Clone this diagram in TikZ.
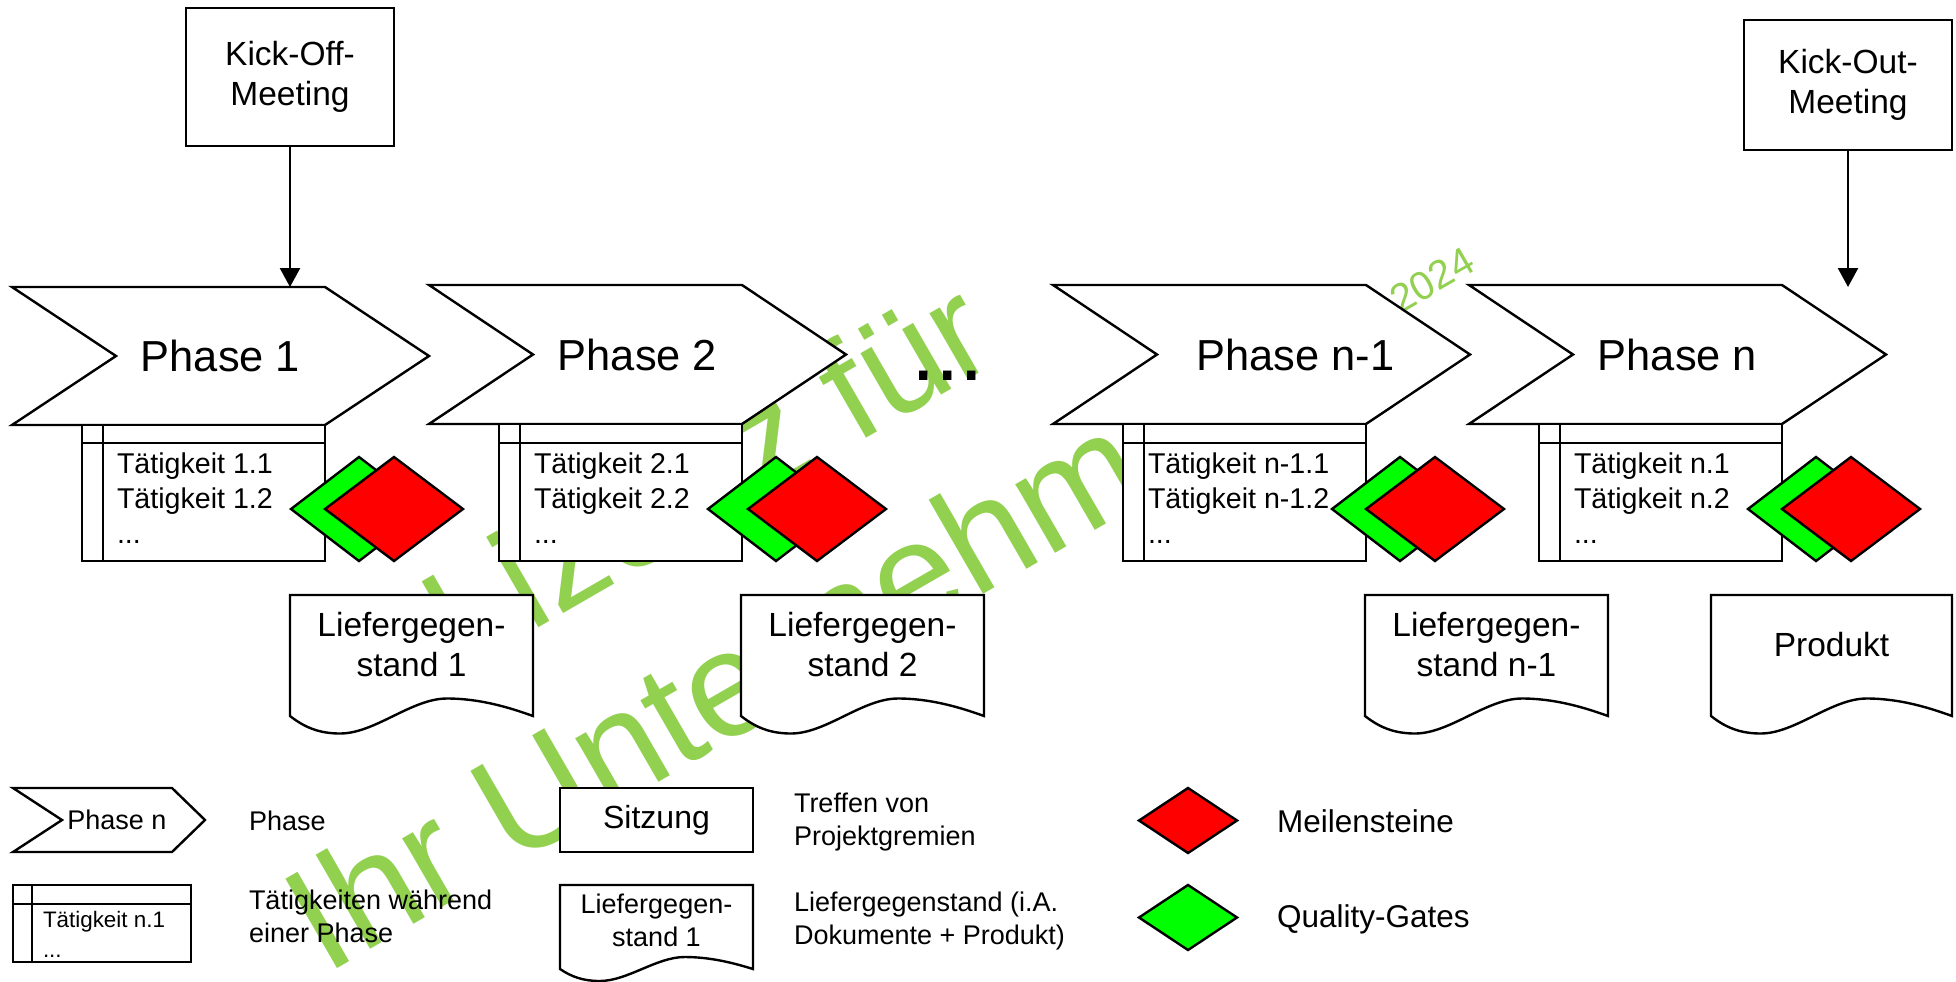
\documentclass[tikz,border=0pt]{standalone}
\usepackage{fontspec}
\setmainfont{Liberation Sans}
\usetikzlibrary{arrows.meta,calc}

\definecolor{wmgreen}{RGB}{146,208,80}
\definecolor{msred}{RGB}{255,0,0}
\definecolor{qggreen}{RGB}{0,255,0}

\tikzset{
  shapeline/.style={draw=black, line width=1.2pt, fill=white},
  divider/.style={draw=black, line width=1.2pt},
  txt/.style={inner sep=0pt, outer sep=0pt, text=black},
  phasetitle/.style={txt, font=\fontsize{21.7}{26}\selectfont},
  tasktext/.style={txt, anchor=north west, align=left, font=\fontsize{14.3}{17.5}\selectfont},
  doctext/.style={txt, align=center, font=\fontsize{16.75}{20}\selectfont},
  meetbox/.style={shapeline, align=center, font=\fontsize{16.75}{20}\selectfont,
    minimum width=104pt, inner sep=0pt},
  legtext/.style={txt, anchor=north west, align=left, font=\fontsize{13.5}{16.5}\selectfont},
  legbig/.style={txt, anchor=base west, font=\fontsize{15.75}{19}\selectfont},
  wmtext/.style={txt, text=wmgreen},
  flow/.style={line width=1.2pt, -{Triangle[width=10pt,length=9.5pt]}},
}

% phase arrow: #1 name, #2 left x, #3 top y, #4 half height, #5 title, #6 title shift
\newcommand\drawphase[6]{%
  \draw[shapeline] (#2,#3) -- ++(313,0) -- ++(104,#4) -- ++(-104,#4) -- ++(-313,0) -- ++(104,-#4) -- cycle;
  \node[phasetitle] (#1) at ($(#2,#3)+({208.5+#6},#4)$) {#5};
}

% activity list below a phase: #1 name, #2 left x, #3 top y, #4 phase number, #5 text indent
\newcommand\drawtasks[5]{%
  \draw[shapeline] (#2,#3) rectangle ({#2+243},561);
  \draw[divider] (#2,443) -- ({#2+243},443);
  \draw[divider] ({#2+21},#3) -- ({#2+21},561);
  \node[tasktext] (#1) at ({#2+#5},453) {Tätigkeit #4.1\\Tätigkeit #4.2\\...};
}

% diamond: #1 centre x, #2 centre y, #3 half width, #4 half height, #5 colour
\newcommand\drawgate[5]{%
  \draw[shapeline, fill=#5] ({#1-#3},#2) -- (#1,{#2-#4}) -- ({#1+#3},#2) -- (#1,{#2+#4}) -- cycle;
}

% document with wavy bottom: #1 left, #2 top, #3 width, #4 side height, #5 wave amplitude
\newcommand\drawdoc[5]{%
  \pgfmathsetmacro\dR{#1+#3}\pgfmathsetmacro\dB{#2+#4}%
  \draw[shapeline] (#1,\dB) -- (#1,#2) -- (\dR,#2) -- (\dR,\dB)
    .. controls ({#1+0.9*#3},{\dB-0.5*#5}) and ({#1+0.78*#3},{\dB-#5}) .. ({#1+0.646*#3},{\dB-#5})
    .. controls ({#1+0.5*#3},{\dB-#5}) and ({#1+0.35*#3},{\dB+#5}) .. ({#1+0.206*#3},{\dB+#5})
    .. controls ({#1+0.12*#3},{\dB+#5}) and ({#1+0.06*#3},{\dB+0.65*#5}) .. (#1,\dB) -- cycle;
}

\begin{document}
\begin{tikzpicture}[x=0.5pt,y=-0.5pt]
\fill[white] (0,0) rectangle (1956,981);
\useasboundingbox (0,0) rectangle (1956,981);

% watermark in the background
\node[wmtext, anchor=base west, rotate=30, font=\fontsize{72}{80}\selectfont] (wmA) at (461,673) {Lizenz für};
\node[wmtext, anchor=base west, rotate=30, font=\fontsize{75}{80}\selectfont] (wmB) at (325,975) {Ihr Unternehmen};
\node[wmtext, rotate=30, font=\fontsize{20}{24}\selectfont] (wmC) at (1432,280) {2024};

% meetings
\node[meetbox, minimum height=69pt] (kickoff) at (290,77) {Kick-Off-\\Meeting};
\node[meetbox, minimum height=65pt] (kickout) at (1848,85) {Kick-Out-\\Meeting};

% phases
\drawphase{p1}{12}{287}{69}{Phase 1}{0}
\drawphase{p2}{429}{285}{69.5}{Phase 2}{0}
\drawphase{pn1}{1053}{285}{69.5}{Phase n-1}{34}
\drawphase{pn}{1469}{285}{69.5}{Phase n}{0}

\coordinate (p1top) at (290,287);
\coordinate (pnin) at (1848,287);
\draw[flow] (kickoff.south) -- (p1top);
\draw[flow] (kickout.south) -- (pnin);

\node[txt, anchor=base west, font=\fontsize{44}{50}\selectfont] (gap) at (911,380) {...};

% activities
\drawtasks{t1}{82}{425}{1}{35}
\drawtasks{t2}{499}{424}{2}{35}
\drawtasks{tn1}{1123}{424}{n-1}{25}
\drawtasks{tn}{1539}{424}{n}{35}

% quality gates and milestones
\drawgate{359}{509}{68}{52}{qggreen}
\drawgate{394}{509}{69}{52}{msred}
\drawgate{776}{509}{68}{52}{qggreen}
\drawgate{817}{509}{69}{52}{msred}
\drawgate{1400}{509}{68}{52}{qggreen}
\drawgate{1435}{509}{69}{52}{msred}
\drawgate{1816}{509}{68}{52}{qggreen}
\drawgate{1851}{509}{69}{52}{msred}

% deliverables
\drawdoc{290}{595}{243}{121}{17.5}
\node[doctext] (d1) at (411.5,645) {Liefergegen-\\stand 1};
\drawdoc{741}{595}{243}{121}{17.5}
\node[doctext] (d2) at (862.5,645) {Liefergegen-\\stand 2};
\drawdoc{1365}{595}{243}{121}{17.5}
\node[doctext] (dn1) at (1486.5,645) {Liefergegen-\\stand n-1};
\drawdoc{1711}{595}{241}{121}{17.5}
\node[doctext] (prod) at (1831.5,645) {Produkt};

% legend
\draw[shapeline] (13,788) -- (172,788) -- (205,820) -- (172,852) -- (13,852) -- (62,820) -- cycle;
\node[txt, font=\fontsize{13.5}{16}\selectfont] (lgphase) at (117,820) {Phase n};
\node[txt, anchor=base west, font=\fontsize{13.5}{16}\selectfont] (lgphasetxt) at (249,830) {Phase};

\draw[shapeline] (13,885) rectangle (191,962);
\draw[divider] (13,904) -- (191,904);
\draw[divider] (32,885) -- (32,962);
\node[txt, anchor=north west, align=left, font=\fontsize{11.2}{15}\selectfont] (lgtask) at (43,911.7) {Tätigkeit n.1\\...};
\node[legtext] (lgtasktxt) at (249,890) {Tätigkeiten während\\einer Phase};

\node[shapeline, minimum width=96.5pt, minimum height=32pt, inner sep=0pt, font=\fontsize{16}{19}\selectfont] (lgmeet) at (656.5,820) {Sitzung};
\node[legtext] (lgmeettxt) at (794,793) {Treffen von\\Projektgremien};

\drawdoc{560}{885}{193}{84}{12}
\node[txt, align=center, font=\fontsize{13.5}{16.5}\selectfont] (lgdoc) at (656.5,920) {Liefergegen-\\stand 1};
\node[legtext] (lgdoctxt) at (794,892) {Liefergegenstand (i.A.\\Dokumente + Produkt)};

\drawgate{1188}{820.5}{49}{32.5}{msred}
\node[legbig] (lgms) at (1277,832) {Meilensteine};
\drawgate{1188}{917.5}{49}{32.5}{qggreen}
\node[legbig] (lgqg) at (1277,927) {Quality-Gates};
\end{tikzpicture}
\end{document}
